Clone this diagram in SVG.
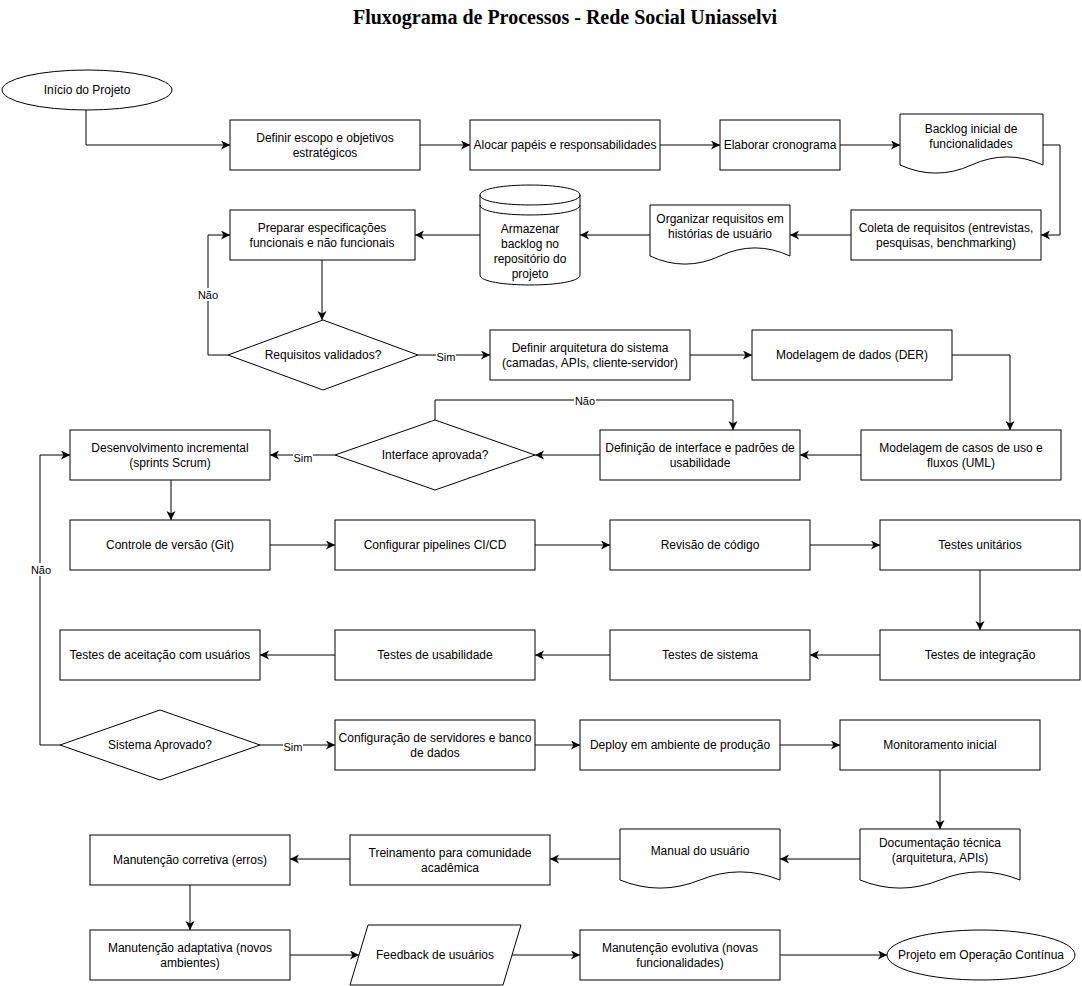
<svg xmlns="http://www.w3.org/2000/svg" width="1082" height="986" viewBox="0 0 1082 986">
<defs>
<marker id="arr" markerUnits="userSpaceOnUse" markerWidth="10" markerHeight="10" refX="9" refY="4.5" orient="auto">
<path d="M0,0 L9,4.5 L0,9 L2.5,4.5 Z" fill="#000"/>
</marker>
</defs>
<style>
.s{fill:#fff;stroke:#000;stroke-width:1}
.t{font-family:"Liberation Sans",Arial,sans-serif;font-size:12px;fill:#000;text-anchor:middle}
.l{font-family:"Liberation Sans",Arial,sans-serif;font-size:11px;fill:#000;text-anchor:middle}
.c{fill:none;stroke:#000;stroke-width:1;marker-end:url(#arr)}
.title{font-family:"Liberation Serif","Times New Roman",serif;font-size:20px;font-weight:bold;text-anchor:middle}
</style>
<rect width="1082" height="986" fill="#fff"/>
<text class="title" x="565" y="24">Fluxograma de Processos - Rede Social Uniasselvi</text>

<g id="connectors">
<path class="c" d="M86,110 V145 H230"/>
<path class="c" d="M420,145 H470"/>
<path class="c" d="M660,145 H720"/>
<path class="c" d="M840,145 H900"/>
<path class="c" d="M1043,145 H1060 V235 H1041"/>
<path class="c" d="M851,235 H790"/>
<path class="c" d="M650,235 H580"/>
<path class="c" d="M480,235 H415"/>
<path class="c" d="M322,260 V320"/>
<path class="c" d="M228,355 H208 V235 H230"/>
<path class="c" d="M418,355 H490"/>
<path class="c" d="M690,355 H752"/>
<path class="c" d="M952,355 H1010 V430"/>
<path class="c" d="M861,455 H800"/>
<path class="c" d="M600,455 H535"/>
<path class="c" d="M435,420 V400 H733 V430"/>
<path class="c" d="M335,455 H270"/>
<path class="c" d="M171,480 V520"/>
<path class="c" d="M270,545 H335"/>
<path class="c" d="M535,545 H610"/>
<path class="c" d="M810,545 H880"/>
<path class="c" d="M980,570 V630"/>
<path class="c" d="M880,655 H810"/>
<path class="c" d="M610,655 H535"/>
<path class="c" d="M335,655 H260"/>
<path class="c" d="M60,745 H40 V455 H70"/>
<path class="c" d="M260,745 H335"/>
<path class="c" d="M535,745 H580"/>
<path class="c" d="M780,745 H840"/>
<path class="c" d="M940,770 V829"/>
<path class="c" d="M860,859 H780"/>
<path class="c" d="M620,859 H550"/>
<path class="c" d="M350,859 H290"/>
<path class="c" d="M190,885 V930"/>
<path class="c" d="M290,955 H359"/>
<path class="c" d="M512,955 H580"/>
<path class="c" d="M780,955 H887"/>
<g id="edge-labels">
<rect x="197" y="288" width="22" height="13" fill="#fff"/><text class="l" x="208" y="299">Não</text>
<rect x="436" y="350" width="20" height="13" fill="#fff"/><text class="l" x="446" y="361">Sim</text>
<rect x="574" y="394" width="22" height="13" fill="#fff"/><text class="l" x="585" y="405">Não</text>
<rect x="293" y="451" width="20" height="13" fill="#fff"/><text class="l" x="303" y="462">Sim</text>
<rect x="30" y="563" width="22" height="13" fill="#fff"/><text class="l" x="41" y="574">Não</text>
<rect x="283" y="740" width="20" height="13" fill="#fff"/><text class="l" x="293" y="751">Sim</text>
</g>
</g>

<g id="n-inicio"><ellipse class="s" cx="87" cy="90" rx="85" ry="20"/><text class="t" x="87" y="94">Início do Projeto</text></g>
<g id="n-escopo"><rect class="s" x="230" y="120" width="190" height="50"/><text class="t" x="325" y="142">Definir escopo e objetivos</text><text class="t" x="325" y="157">estratégicos</text></g>
<g id="n-alocar"><rect class="s" x="470" y="120" width="190" height="50"/><text class="t" x="565" y="149">Alocar papéis e responsabilidades</text></g>
<g id="n-cronograma"><rect class="s" x="720" y="120" width="120" height="50"/><text class="t" x="780" y="149">Elaborar cronograma</text></g>
<g id="n-backlog"><path class="s" d="M900,114 H1043 V165 Q1007,148.8 971.5,165 Q936,181.2 900,165 Z"/><text class="t" x="971" y="133">Backlog inicial de</text><text class="t" x="971" y="148">funcionalidades</text></g>
<g id="n-coleta"><rect class="s" x="851" y="210" width="190" height="50"/><text class="t" x="946" y="232">Coleta de requisitos (entrevistas,</text><text class="t" x="946" y="247">pesquisas, benchmarking)</text></g>
<g id="n-organizar"><path class="s" d="M650,205 H790 V256 Q755,239.8 720,256 Q685,272.2 650,256 Z"/><text class="t" x="720" y="223">Organizar requisitos em</text><text class="t" x="720" y="238">histórias de usuário</text></g>
<g id="n-armazenar"><path class="s" d="M480,195 C480,181.7 580,181.7 580,195 V275 C580,288.3 480,288.3 480,275 Z"/><path d="M480,195 C480,208.3 580,208.3 580,195 M480,205 C480,218.3 580,218.3 580,205" fill="none" stroke="#000"/><text class="t" x="530" y="233">Armazenar</text><text class="t" x="530" y="248">backlog no</text><text class="t" x="530" y="263">repositório do</text><text class="t" x="530" y="278">projeto</text></g>
<g id="n-preparar"><rect class="s" x="230" y="210" width="185" height="50"/><text class="t" x="322" y="232">Preparar especificações</text><text class="t" x="322" y="247">funcionais e não funcionais</text></g>
<g id="n-validados"><path class="s" d="M323,320 L418,355 L323,390 L228,355 Z"/><text class="t" x="323" y="359">Requisitos validados?</text></g>
<g id="n-arquitetura"><rect class="s" x="490" y="330" width="200" height="50"/><text class="t" x="590" y="352">Definir arquitetura do sistema</text><text class="t" x="590" y="367">(camadas, APIs, cliente-servidor)</text></g>
<g id="n-der"><rect class="s" x="752" y="330" width="200" height="50"/><text class="t" x="852" y="359">Modelagem de dados (DER)</text></g>
<g id="n-uml"><rect class="s" x="861" y="430" width="200" height="50"/><text class="t" x="961" y="452">Modelagem de casos de uso e</text><text class="t" x="961" y="467">fluxos (UML)</text></g>
<g id="n-interface"><rect class="s" x="600" y="430" width="200" height="50"/><text class="t" x="700" y="452">Definição de interface e padrões de</text><text class="t" x="700" y="467">usabilidade</text></g>
<g id="n-interface-ok"><path class="s" d="M435,420 L535,455 L435,490 L335,455 Z"/><text class="t" x="435" y="459">Interface aprovada?</text></g>
<g id="n-desenv"><rect class="s" x="70" y="430" width="200" height="50"/><text class="t" x="170" y="452">Desenvolvimento incremental</text><text class="t" x="170" y="467">(sprints Scrum)</text></g>
<g id="n-git"><rect class="s" x="70" y="520" width="200" height="50"/><text class="t" x="170" y="549">Controle de versão (Git)</text></g>
<g id="n-cicd"><rect class="s" x="335" y="520" width="200" height="50"/><text class="t" x="435" y="549">Configurar pipelines CI/CD</text></g>
<g id="n-revisao"><rect class="s" x="610" y="520" width="200" height="50"/><text class="t" x="710" y="549">Revisão de código</text></g>
<g id="n-unit"><rect class="s" x="880" y="520" width="200" height="50"/><text class="t" x="980" y="549">Testes unitários</text></g>
<g id="n-integracao"><rect class="s" x="880" y="630" width="200" height="50"/><text class="t" x="980" y="659">Testes de integração</text></g>
<g id="n-sistema"><rect class="s" x="610" y="630" width="200" height="50"/><text class="t" x="710" y="659">Testes de sistema</text></g>
<g id="n-usabilidade"><rect class="s" x="335" y="630" width="200" height="50"/><text class="t" x="435" y="659">Testes de usabilidade</text></g>
<g id="n-aceitacao"><rect class="s" x="60" y="630" width="200" height="50"/><text class="t" x="160" y="659">Testes de aceitação com usuários</text></g>
<g id="n-sistema-ok"><path class="s" d="M160,710 L260,745 L160,780 L60,745 Z"/><text class="t" x="160" y="749">Sistema Aprovado?</text></g>
<g id="n-servidores"><rect class="s" x="335" y="720" width="200" height="50"/><text class="t" x="435" y="742">Configuração de servidores e banco</text><text class="t" x="435" y="757">de dados</text></g>
<g id="n-deploy"><rect class="s" x="580" y="720" width="200" height="50"/><text class="t" x="680" y="749">Deploy em ambiente de produção</text></g>
<g id="n-monitor"><rect class="s" x="840" y="720" width="200" height="50"/><text class="t" x="940" y="749">Monitoramento inicial</text></g>
<g id="n-doc"><path class="s" d="M860,829 H1020 V880 Q980,863.8 940,880 Q900,896.2 860,880 Z"/><text class="t" x="940" y="847">Documentação técnica</text><text class="t" x="940" y="862">(arquitetura, APIs)</text></g>
<g id="n-manual"><path class="s" d="M620,829 H780 V880 Q740,863.8 700,880 Q660,896.2 620,880 Z"/><text class="t" x="700" y="855">Manual do usuário</text></g>
<g id="n-treinamento"><rect class="s" x="350" y="835" width="200" height="50"/><text class="t" x="450" y="857">Treinamento para comunidade</text><text class="t" x="450" y="872">acadêmica</text></g>
<g id="n-corretiva"><rect class="s" x="90" y="835" width="200" height="50"/><text class="t" x="190" y="864">Manutenção corretiva (erros)</text></g>
<g id="n-adaptativa"><rect class="s" x="90" y="930" width="200" height="50"/><text class="t" x="190" y="952">Manutenção adaptativa (novos</text><text class="t" x="190" y="967">ambientes)</text></g>
<g id="n-feedback"><path class="s" d="M368,925 L521,925 L503,985 L350,985 Z"/><text class="t" x="435" y="959">Feedback de usuários</text></g>
<g id="n-evolutiva"><rect class="s" x="580" y="930" width="200" height="50"/><text class="t" x="680" y="952">Manutenção evolutiva (novas</text><text class="t" x="680" y="967">funcionalidades)</text></g>
<g id="n-fim"><ellipse class="s" cx="981" cy="955" rx="94" ry="25"/><text class="t" x="981" y="959">Projeto em Operação Contínua</text></g>
</svg>
